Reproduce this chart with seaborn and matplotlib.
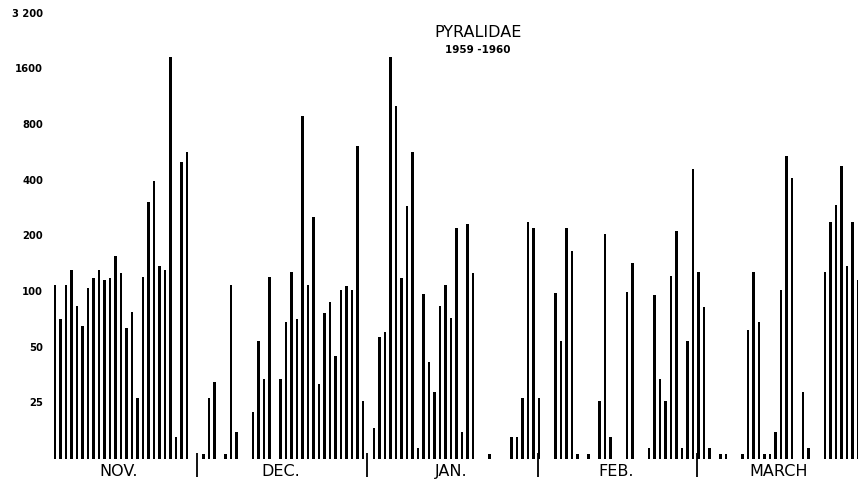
import pandas as pd
import seaborn as sns
import matplotlib.pyplot as plt

# nightly catches, 5 Nov 1959 - 30 Mar 1960 (0 = no catch)
nov = [106, 70, 106, 128, 82, 64, 103, 116, 128, 114, 116, 152, 123, 62,
       76, 26, 118, 300, 390, 135, 128, 1830, 16, 490, 560, 0]
dec = [0, 13, 26, 32, 0, 13, 107, 17, 0, 0, 22, 53, 33, 117, 0, 33, 67,
       125, 70, 870, 107, 248, 31, 75, 86, 44, 100, 105, 100, 600, 25]
jan = [0, 18, 56, 59, 1830, 990, 116, 285, 555, 14, 95, 41, 28, 82, 107,
       71, 217, 17, 227, 123, 0, 0, 13, 0, 0, 0, 16, 16, 26, 233, 217]
feb = [26, 0, 0, 96, 53, 217, 162, 13, 0, 13, 0, 25, 200, 16, 0, 0, 98,
       140, 0, 0, 14, 94, 33, 25, 119, 209, 14, 53, 450]
mar = [125, 81, 14, 0, 13, 13, 0, 0, 13, 61, 125, 67, 13, 13, 17, 100,
       530, 405, 0, 28, 14, 0, 0, 125, 233, 290, 470, 135, 233, 114]

month_names = ['NOV.', 'DEC.', 'JAN.', 'FEB.', 'MARCH']
month_data = [nov, dec, jan, feb, mar]
y_ticks = [25, 50, 100, 200, 400, 800, 1600, 3200]
y_tick_labels = ['25', '50', '100', '200', '400', '800', '1600', '3 200']

# one row per night
counts = [c for m in month_data for c in m]
df = pd.DataFrame({'night': range(len(counts)), 'count': counts})
df = df[df['count'] > 0]

# first night index of each month
starts = []
n = 0
for m in month_data:
    starts.append(n)
    n += len(m)

sns.set_style('white')
plt.rcParams['font.family'] = ['DejaVu Sans']
plt.rcParams['text.color'] = 'black'
plt.rcParams['ytick.color'] = 'black'

fig = plt.figure(figsize=(8.58, 4.81), dpi=100)
ax = fig.add_axes([52.25 / 858, 21 / 481, 805.75 / 858, 460 / 481])

sns.barplot(data=df, x='night', y='count', color='black', width=0.4,
            native_scale=True, errorbar=None, linewidth=0, ax=ax)

ax.set_yscale('log')
ax.set_ylim(12.2, 3754)
ax.set_xlim(-0.5, 146.0)

ax.set_yticks(y_ticks)
ax.set_yticklabels(y_tick_labels, fontsize=7.2, fontweight='bold')
ax.yaxis.set_minor_locator(plt.NullLocator())
ax.tick_params(axis='y', length=0, pad=6.6, labelcolor='black')
ax.set_xticks([])
ax.set_xlabel('')
ax.set_ylabel('')
sns.despine(ax=ax, left=True, bottom=True)

# month separators below the baseline
seps = [s - 0.25 for s in starts[1:]]
ax.vlines(seps, -0.04, 0.012, transform=ax.get_xaxis_transform(),
          color='black', lw=1.3, clip_on=False)

# month names
for name, s, m in zip(month_names, starts, month_data):
    mid = s + (len(m) - 1) / 2
    if name == 'NOV.':
        mid -= 1
    ax.text(mid, -0.024, name, transform=ax.get_xaxis_transform(),
            ha='center', va='center', fontsize=11.5, color='black',
            clip_on=False)

ax.text(0.528, 0.930, 'PYRALIDAE', transform=ax.transAxes,
        ha='center', va='center', fontsize=11.5, color='black')
ax.text(0.528, 0.892, '1959 -1960', transform=ax.transAxes,
        ha='center', va='center', fontsize=7.5, fontweight='bold',
        color='black')

fig.savefig('out.png', dpi=100)
